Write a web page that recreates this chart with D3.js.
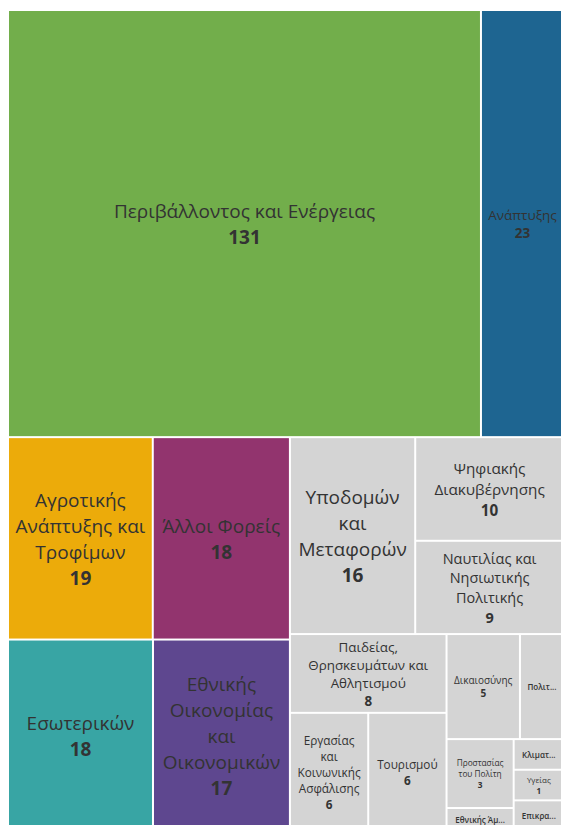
<!DOCTYPE html>
<html>
<head>
<meta charset="utf-8">
<script src="https://cdn.jsdelivr.net/npm/d3@7"></script>
<style>
	body { margin: 0; background: #fff; }
	svg { display: block; }
</style>
</head>
<body>
<svg id="TreeMap"></svg>
<script>
// ministries (the ones with most entries get a colour, the rest stay grey)
var ministries = [
	"Περιβάλλοντος και Ενέργειας",
	"Ανάπτυξης",
	"Αγροτικής Ανάπτυξης και Τροφίμων",
	"Άλλοι Φορείς",
	"Εσωτερικών",
	"Εθνικής Οικονομίας και Οικονομικών",
	"Υποδομών και Μεταφορών",
	"Ψηφιακής Διακυβέρνησης",
	"Ναυτιλίας και Νησιωτικής Πολιτικής",
	"Παιδείας, Θρησκευμάτων και Αθλητισμού",
	"Εργασίας και Κοινωνικής Ασφάλισης",
	"Τουρισμού",
	"Δικαιοσύνης",
	"Πολιτισμού",
	"Προστασίας του Πολίτη",
	"Εθνικής Άμυνας",
	"Κλιματικής Κρίσης και Πολιτικής Προστασίας",
	"Υγείας",
	"Επικρατείας"
];
var counts = [131, 23, 19, 18, 18, 17, 16, 10, 9, 8, 6, 6, 5, 3, 3, 1, 1, 1, 1];
var colored = ministries.slice(0, 6);
var palette = ["#72ae4b", "#1e6591", "#ecab0a", "#92346e", "#38a5a4", "#5e478f"];

var margin = {top: 11, left: 9};
var svgWidth = 561, svgHeight = 825;
var width = 554, height = 819;

var fontFamily = "'Open Sans', 'Noto Sans', sans-serif";
var maxFont = 19, minFont = 8, areaFont = 0.125, lineHeight = 1.36;
var padX = 6, padY = 2;

var color = d3.scaleOrdinal()
	.domain(colored)
	.range(palette)
	.unknown("#d4d4d4");

var svg = d3.select("#TreeMap")
	.attr("width", svgWidth)
	.attr("height", svgHeight);

var root = d3.hierarchy({children: ministries.map(function(m, i) { return {name: m, value: counts[i]}; })})
	.sum(function(d) { return d.value; })
	.sort(function(a, b) { return b.value - a.value; });

d3.treemap()
	.tile(d3.treemapBinary)
	.size([width, height])
	.paddingInner(2)(root);

var measure = svg.append("text")
	.attr("font-family", fontFamily)
	.attr("visibility", "hidden");

function textWidth(str, size, weight) {
	measure.attr("font-size", size).attr("font-weight", weight || 400).text(str);
	return measure.node().getComputedTextLength();
}

function wrapWords(name, size, maxWidth) {
	var words = name.split(" "), lines = [], line = "";
	for (var i = 0; i < words.length; i++) {
		var test = line ? line + " " + words[i] : words[i];
		if (textWidth(test, size) <= maxWidth) { line = test; continue; }
		if (!line) return null;
		lines.push(line);
		line = words[i];
		if (textWidth(line, size) > maxWidth) return null;
	}
	lines.push(line);
	return lines;
}

function fitLabel(d) {
	var cw = d.x1 - d.x0, ch = d.y1 - d.y0;
	var w = cw - 2 * padX, h = ch - 2 * padY;
	var start = Math.max(minFont, Math.min(maxFont, Math.sqrt(cw * ch) * areaFont));
	for (var size = start; size >= minFont; size -= 0.25) {
		var lines = wrapWords(d.data.name, size, w);
		if (lines && (lines.length + 1) * size * lineHeight <= h)
			return {size: size, lines: lines, value: true, weight: 400};
	}
	// does not fit: shorten the name, drop the number
	var name = d.data.name, n = name.length;
	while (n > 1 && textWidth(name.slice(0, n) + "...", minFont, 600) > w) n--;
	return {size: minFont, lines: [name.slice(0, n) + "..."], value: false, weight: 600};
}

var g = svg.append("g")
	.attr("transform", "translate(" + margin.left + "," + margin.top + ")");

var cell = g.selectAll("g")
	.data(root.leaves())
	.enter().append("g")
		.attr("transform", function(d) { return "translate(" + d.x0 + "," + d.y0 + ")"; });

cell.append("rect")
	.attr("width", function(d) { return d.x1 - d.x0; })
	.attr("height", function(d) { return d.y1 - d.y0; })
	.attr("fill", function(d) { return color(d.data.name); });

cell.each(function(d) {
	var lab = fitLabel(d);
	var rows = lab.lines.map(function(l) { return {text: l, weight: lab.weight}; });
	if (lab.value) rows.push({text: String(d.value), weight: 700});
	var lh = lab.size * lineHeight;
	var cx = (d.x1 - d.x0) / 2, cy = (d.y1 - d.y0) / 2;
	var top = cy - rows.length * lh / 2;

	d3.select(this).selectAll("text")
		.data(rows)
		.enter().append("text")
			.attr("x", cx)
			.attr("y", function(r, i) { return top + (i + 0.5) * lh; })
			.attr("dy", "0.4em")
			.attr("text-anchor", "middle")
			.attr("font-family", fontFamily)
			.attr("font-size", lab.size)
			.attr("font-weight", function(r) { return r.weight; })
			.attr("fill", "#333")
			.text(function(r) { return r.text; });
});

measure.remove();
</script>
</body>
</html>
